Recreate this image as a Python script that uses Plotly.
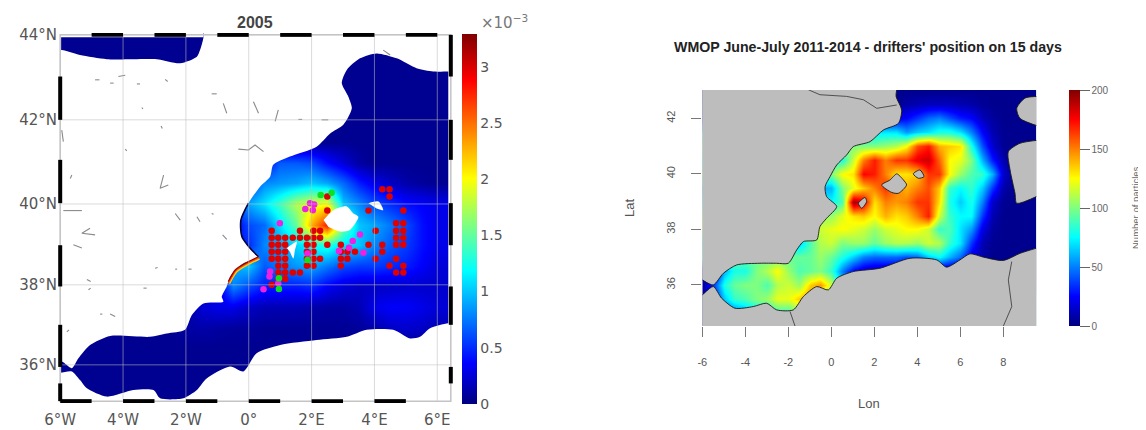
import plotly.graph_objects as go

# page body has an 8 px margin, so figure coordinates are reference pixels minus OFF
OFF = 8
W, H = 1146 - OFF, 430 - OFF
# ---------- left panel data ----------
left_lon = [-6 + 0.5 * i for i in range(26)]
left_lat = [44 - 0.5 * i for i in range(20)]
_d = 0.05
_w12 = [_d] * 10  # -6 .. -1.5
left_z = [
    [_d] * 26, [_d] * 26, [_d] * 26, [_d] * 26, [_d] * 26, [_d] * 26,
    _w12 + [_d, _d, .05, .35, .65, .65, .6, .4, .25, .1, .05, .05, .05, .05, .05, .05],        # 41
    _w12 + [_d, .2, .5, .8, .85, .9, 1.0, .9, .7, .45, .3, .2, .12, .08, .06, .05],            # 40.5
    _w12 + [_d, .5, .9, 1.1, 1.4, 1.75, 1.9, 2.0, 1.0, .8, .6, .5, .4, .35, .3, .3],           # 40
    _w12 + [_d, .3, .6, .7, 1.1, 1.5, 2.3, 2.8, 1.6, 1.0, .9, .75, .6, .4, .3, .3],            # 39.5
    _w12 + [_d, .4, .5, .8, .9, 1.05, 1.2, 1.3, 1.1, 1.0, .8, .65, .55, .4, .3, .3],           # 39
    _w12 + [.05, .9, 1.0, .65, .75, .85, .9, .75, .6, .55, .55, .5, .45, .35, .25, .25],       # 38.5
    _w12 + [.2, .8, .6, .45, .45, .45, .5, .35, .25, .2, .2, .2, .22, .22, .22, .22],          # 38
    [_d] * 8 + [.1, .25] + [.3, .3, .2, .15, .15, .15, .12, .1, .1, .15, .3, .35, .35, .3, .25, .25],  # 37.5
    [_d] * 8 + [.1, .12] + [.1, .08, .08, .06, .06, .06, .06, .06, .06, .08, .12, .2, .22, .2, .15, .15],  # 37
    [_d] * 26, [_d] * 26, [_d] * 26, [_d] * 26, [_d] * 26,
]
left_north_coast = [(6.35,43.21),(5.87,43.21),(5.34,43.29),(4.71,43.53),(4.07,43.65),(3.54,43.53),(3.12,43.25),(2.96,42.93),(3.17,42.6),(3.28,42.32),(3.01,41.92),(2.59,41.71),(2.16,41.39),(1.31,41.15),(.78,40.95),(.68,40.66),(.36,40.42),(-.01,40.02),(-.25,39.61),(-.22,39.21),(.04,38.93),(.31,38.72),(-.17,38.56),(-.59,38.24),(-.7,38.0),(-.86,37.75),(-.81,37.63),(-1.44,37.59),(-1.81,37.31),(-2.03,36.95),(-2.61,36.86),(-3.14,36.78),(-4.41,36.8),(-5.05,36.58),(-5.42,36.26),(-5.63,36.02),(-5.95,36.18)]
left_top_edge = [(-5.95,43.73),(-5.37,43.61),(-4.52,43.51),(-3.67,43.51),(-2.93,43.51),(-2.18,43.41),(-1.65,43.57),(-1.55,43.73),(-1.44,44.04)]
left_south_coast = [(-6,35.91),(-5.63,35.94),(-5.37,35.73),(-5.15,35.53),(-4.52,35.33),(-3.67,35.49),(-3.03,35.49),(-2.82,35.29),(-2.08,35.29),(-1.65,35.49),(-1.34,35.77),(-.59,36.06),(-.17,35.94),(.25,36.38),(1.0,36.58),(2.16,36.7),(3.12,36.78),(3.75,36.95),(4.6,36.95),(5.13,36.74),(5.45,36.78),(5.77,36.99),(6.35,37.11)]
left_islands = [
    [(2.38,39.61),(2.69,39.85),(3.12,39.94),(3.33,39.77),(3.49,39.69),(3.22,39.37),(2.91,39.33),(2.53,39.45)],
    [(3.81,40.02),(4.13,40.06),(4.28,39.85),(4.07,39.89)],
    [(1.21,38.93),(1.53,39.09),(1.47,38.88),(1.42,38.68),(1.31,38.84)],
]
left_fragments = [
    [(-4.89,43.01),(-4.75,43.01)],[(-4.41,42.93),(-4.3,42.93)],[(-4.15,43.09),(-3.93,43.12)],[(-3.56,42.91),(-3.46,42.91)],
    [(-2.66,43.02),(-2.58,42.97)],[(-3.4,42.34),(-3.37,42.3)],[(-1.18,42.67),(-1.02,42.67)],[(-.81,42.44),(-.7,42.2)],
    [(.15,42.48),(.31,42.2)],[(.94,42.28),(.84,42.0)],[(1.58,42.05),(1.7,42.05)],[(2.32,42.04),(2.53,42.04)],
    [(-2.79,41.89),(-2.75,41.83)],[(-5.95,41.79),(-5.9,41.51)],[(-3.93,41.33),(-3.88,41.29)],
    [(-.33,41.33),(-.01,41.31),(.2,41.43),(.47,41.27)],[(-2.71,40.7),(-2.82,40.38),(-2.56,40.46)],[(-5.68,40.62),(-5.63,40.7)],
    [(-5.9,39.84),(-5.31,39.84)],[(-2.34,39.77),(-2.18,39.61)],[(-1.65,39.69),(-1.55,39.57)],[(-1.18,39.77),(-1.12,39.75)],
    [(-.83,39.25),(-.7,39.14)],[(-5.05,39.41),(-5.31,39.29),(-4.89,39.25)],[(-5.58,39.01),(-5.31,38.93)],[(-2.98,38.44),(-2.9,38.46)],
    [(-2.34,38.42),(-2.28,38.42)],[(-1.92,38.42),(-1.82,38.42)],[(-5.15,38.17),(-5.03,38.12)],[(-5.1,37.92),(-5.03,37.96)],
    [(-3.35,37.96),(-3.25,37.96)],[(-4.73,37.33),(-4.66,37.33)],[(-4.41,37.33),(-4.25,37.27)],[(-5.79,36.9),(-5.72,36.95)],[(4.28,43.73),(4.5,43.61)],
]
valencia_shadow = [(-.01,40.02),(-.25,39.61),(-.22,39.21),(.04,38.93),(.31,38.72)]
filament = [(-.65,38.12),(-.43,38.4),(-.12,38.56),(.31,38.72)]
red_rows = {
    40.36: [4.25,4.48], 40.18: [2.5,4.48], 39.84: [2.5,3.81,4.92], 39.53: [4.69,4.92],
    39.35: [.73,1.63,2.06,2.27,4.04,4.69,4.92],
    39.18: [.73,.94,1.16,1.4,1.63,1.85,2.06,2.27,4.69,4.92],
    39.01: [.73,.94,1.16,1.85,2.06,2.5,2.93,3.81,4.25,4.69,4.92],
    38.84: [.73,.94,1.16,1.85,2.06,2.93,3.14,3.38,4.25],
    38.67: [.73,.94,1.16,1.85,2.06,2.27,2.93,3.14,4.04,4.69],
    38.5:  [.94,1.16,1.85,2.06,2.93,4.48,4.92],
    38.34: [.94,1.16,1.4,1.63,4.69,4.92],
    38.18: [.94,1.16], 38.04: [.73],
}
magenta_lon = [1.95,2.08,1.8,2.04,.99,3.54,3.31,2.87,3.19,3.65,.68,.66,.47,.94,1.87]
magenta_lat = [40.02,39.99,39.88,39.85,39.53,39.26,39.1,38.86,38.94,38.82,38.36,38.24,37.93,38.08,38.8]
green_lon = [1.87,.96,.96,2.29,2.64]
green_lat = [38.64,38.2,37.94,40.22,40.27]
top_black = [(-5,-4),(-3,-2),(-1,0),(1,2),(3,4),(5,6)]
bottom_black = [(-6,-5),(-4,-3),(-2,-1),(0,1),(2,3),(4,5)]
left_black = [(42.04,43.09),(40.02,41.07),(38.0,39.0),(36.05,37.07),(35.22,35.65)]
right_black = [(43.09,44.1),(41.07,42.04),(39.0,40.02),(37.07,38.0),(35.65,36.05)]
left_lon_ticks = [-6,-4,-2,0,2,4,6]
left_lon_text = ["6°W","4°W","2°W","0°","2°E","4°E","6°E"]
left_lat_ticks = [36.1,38.04,40,42.04,44.1]
left_lat_text = ["36°N","38°N","40°N","42°N","44°N"]
left_cb_ticks = [0,.5,1,1.5,2,2.5,3]
left_cb_text = ["0","0.5","1","1.5","2","2.5","3"]

# ---------- right panel data ----------
right_lon = [-6 + 0.5 * i for i in range(32)]
right_lat = [43 - 0.5 * i for i in range(18)]
right_z = [
    [3]*32,
    [3]*19 + [8,10,12,12,12,10,8,5,3,3,3,3,3],
    [20]*18 + [20,25,35,45,50,40,30,25,12,6,3,3,3,3],
    [70]*17 + [70,70,55,65,70,80,80,70,50,25,10,4,3,3,3],
    [100]*14 + [100,100,100,105,110,125,160,170,140,135,130,80,40,15,4,3,3,3],
    [80]*13 + [80,115,150,170,150,165,165,180,185,155,125,120,100,60,30,8,3,3,3],
    [100]*12 + [100,125,130,175,170,150,130,130,135,165,165,125,105,90,85,60,15,3,3,3],
    [60]*12 + [60,100,120,135,150,165,150,140,150,160,135,85,75,85,65,35,8,3,3,3],
    [75]*12 + [75,90,195,180,130,150,145,150,165,165,130,80,65,80,50,15,4,3,3,3],
    [105]*11 + [105,105,120,130,135,125,140,130,135,150,170,115,85,75,75,35,10,3,3,3,3],
    [115]*11 + [115,120,125,120,115,105,115,120,125,125,115,85,90,70,55,20,6,3,3,3,3],
    [65]*9 + [65,90,110,115,100,105,105,95,105,110,110,105,115,110,85,70,35,10,4,3,3,3,3],
    [95]*8 + [95,95,95,105,95,80,65,50,45,45,45,40,45,65,75,60,45,20,8,3,3,3,3,3],
    [8,12,60,80,80,100,110,125,105,90,95,100,85,50,25,15,10,10,10,10,10,10,10,5,5,5,5,5,5,5,5,5],
    [5,35,80,95,100,100,90,110,115,105,135,145,115,60] + [30]*18,
    [5,25,65,85,90,100,105,120,120,135,150,120] + [60]*20,
    [5,5,35,45,55,70,75,85,85,100] + [60]*22,
    [5,5,35,45,55,70,75,85,85,100] + [60]*22,
]
right_north_coast = [(3.04,43.03),(3.01,42.79),(3.27,42.3),(3.12,41.82),(2.42,41.58),(1.8,41.16),(1.02,40.98),(.71,40.68),(.25,40.32),(-.06,39.9),(-.29,39.54),(-.22,39.18),(.25,38.82),(-.22,38.4),(-.53,38.1),(-.68,37.62),(-1.3,37.56),(-1.61,37.26),(-2.0,36.78),(-2.54,36.78),(-3.32,36.78),(-4.4,36.72),(-5.02,36.42),(-5.49,36.0),(-6,36.18)]
right_south_coast = [(-6,35.64),(-5.49,35.94),(-5.1,35.52),(-4.48,35.16),(-3.63,35.22),(-3.01,35.34),(-2.54,35.1),(-1.77,35.1),(-1.3,35.58),(-.68,35.94),(-.14,35.82),(.25,36.24),(1.02,36.48),(2.26,36.6),(3.66,36.96),(4.9,36.9),(5.36,36.64),(5.98,36.9),(6.45,37.12),(7.07,37.0),(8.0,36.88),(8.78,37.14),(9.53,37.32)]
right_islands = [
    [(9.7,42.79),(9.01,42.73),(8.62,42.36),(8.77,42.0),(9.7,41.7)],
    [(9.7,41.22),(8.77,41.1),(8.23,40.8),(8.31,40.14),(8.54,39.3),(8.62,38.94),(9.7,39.24)],
    [(2.34,39.6),(2.73,39.78),(3.04,40.0),(3.35,39.78),(3.5,39.6),(3.12,39.3),(2.81,39.33),(2.34,39.6)],
    [(3.81,40),(4.12,40.14),(4.31,39.9),(4.05,39.84),(3.81,40)],
    [(1.26,38.94),(1.57,39.15),(1.64,39.0),(1.41,38.76),(1.26,38.94)],
]
right_borders = [
    [(-1.07,43.03),(-.53,42.85),(.71,42.79),(1.49,42.67),(2.11,42.36),(3.04,42.48)],
    [(-1.92,35.04),(-1.69,34.52)],
    [(8.39,36.84),(8.23,36.18),(8.39,35.22),(8.0,34.52)],
]
right_lon_ticks = [-6,-4,-2,0,2,4,6,8]
right_lon_text = ["-6","-4","-2","0","2","4","6","8"]
right_lat_ticks = [36,38,40,42]
right_cb_ticks = [0,50,100,150,200]

# ---------- layout helpers ----------
JET = [[0,"#00007f"],[.11,"#0000ff"],[.36,"#00ffff"],[.61,"#ffff00"],[.875,"#ff0000"],[1,"#7f0000"]]
JET2 = [[0,"#00007f"],[.125,"#0000ff"],[.375,"#00ffff"],[.625,"#ffff00"],[.875,"#ff0000"],[1,"#7f0000"]]
def xs(p): return [a for a, _ in p]
def ys(p): return [b for _, b in p]
def poly(points, color, xa, ya, smooth=False):
    ln = dict(width=0, color=color)
    if smooth:
        ln.update(shape="spline", smoothing=0.7)
    return go.Scatter(x=xs(points), y=ys(points), mode="lines", fill="toself", fillcolor=color,
                      line=ln, hoverinfo="skip", showlegend=False, xaxis=xa, yaxis=ya)
def line(points, color, width, xa, ya, smooth=False):
    ln = dict(color=color, width=width)
    if smooth:
        ln.update(shape="spline", smoothing=0.7)
    return go.Scatter(x=xs(points), y=ys(points), mode="lines", line=ln,
                      hoverinfo="skip", showlegend=False, xaxis=xa, yaxis=ya)
def px(x): return (x - OFF) / W
def py(y): return 1 - (y - OFF) / H
def dx(a, b): return [px(a), px(b)]
def dy(top, bottom): return [py(bottom), py(top)]

fig = go.Figure()
X0, X1, Y0, Y1 = -6.07, 6.5, 35.175, 44.145
FX0, FX1, FY0, FY1 = -6.0, 6.43, 35.22, 44.10
M = 0.3  # masks run past the axes so no heatmap fringe shows

fig.add_trace(go.Heatmap(x=left_lon, y=left_lat[::-1], z=left_z[::-1], zsmooth="best", zmin=0, zmax=3.29,
    colorscale=JET, xaxis="x", yaxis="y", hoverinfo="skip",
    colorbar=dict(x=px(462), xanchor="left", y=py(404), yanchor="bottom", len=370/H, lenmode="fraction",
                  thickness=15, thicknessmode="pixels", xpad=0, ypad=0, outlinewidth=0,
                  tickvals=left_cb_ticks, ticktext=left_cb_text, ticks="",
                  tickfont=dict(family="DejaVu Sans", size=14, color="#555"))))
white = "#ffffff"
land_a = [(X1+M,Y1+M),(X1+M,43.21)] + left_north_coast + [(X0-M,36.18),(X0-M,43.73)] + left_top_edge + [(-1.44,Y1+M)]
land_c = [(X1+M,37.11)] + left_south_coast[::-1] + [(X0-M,35.91),(X0-M,Y0-M),(X1+M,Y0-M)]
top_strip = [(X0-M,Y1+M),(-1.44,Y1+M),(-1.44,44.04),(X0-M,44.04)]
left_strip = [(X0-M,Y0-M),(-5.97,Y0-M),(-5.97,Y1+M),(X0-M,Y1+M)]
right_strip = [(6.35,Y0-M),(X1+M,Y0-M),(X1+M,Y1+M),(6.35,Y1+M)]
for p in [land_a, land_c] + left_islands:
    fig.add_trace(poly(p, white, "x", "y", smooth=True))
for p in [top_strip, left_strip, right_strip]:
    fig.add_trace(poly(p, white, "x", "y"))
for frag in left_fragments:
    fig.add_trace(line(frag, "#8a8a8a", 1.1, "x", "y"))
fig.add_trace(line(valencia_shadow, "#00003a", 1.6, "x", "y", smooth=True))
fig.add_trace(line([(a + .03, b - .05) for a, b in filament], "#ffd000", 2, "x", "y", smooth=True))
fig.add_trace(line([(a + .015, b - .025) for a, b in filament], "#ff5000", 1.5, "x", "y", smooth=True))
fig.add_trace(line(filament, "#a00000", 1.3, "x", "y", smooth=True))

red_lon = [lo for la, row in red_rows.items() for lo in row]
red_lat = [la for la, row in red_rows.items() for lo in row]
for lon_, lat_, c in [(red_lon, red_lat, "#e00000"), (magenta_lon, magenta_lat, "#f020e0"), (green_lon, green_lat, "#10e020")]:
    fig.add_trace(go.Scatter(x=lon_, y=lat_, mode="markers", marker=dict(size=6.5, color=c, line=dict(width=0)),
                             hoverinfo="skip", showlegend=False, xaxis="x", yaxis="y"))

# right panel
fig.add_trace(go.Heatmap(x=right_lon, y=right_lat[::-1], z=right_z[::-1], zsmooth="best", zmin=0, zmax=200,
    colorscale=JET2, xaxis="x2", yaxis="y2", hoverinfo="skip",
    colorbar=dict(x=px(1069), xanchor="left", y=py(326), yanchor="bottom", len=236/H, lenmode="fraction",
                  thickness=10.5, thicknessmode="pixels", xpad=0, ypad=0, outlinewidth=0,
                  tickvals=right_cb_ticks, ticks="outside", ticklen=10, tickcolor="#666", tickprefix="\u00a0\u00a0",
                  tickfont=dict(family="Liberation Sans", size=10, color="#666"))))
gray = "#bdbdbd"
RX0, RX1, RY0, RY1 = -6, 9.53, 34.52, 43.02
r_land_a = [(RX0-M,RY1+M),(3.04,RY1+M)] + right_north_coast + [(RX0-M,36.18)]
r_land_c = [(RX0-M,35.64)] + right_south_coast + [(RX1+M,37.32),(RX1+M,RY0-M),(RX0-M,RY0-M)]
for p in [r_land_a, r_land_c] + right_islands:
    fig.add_trace(poly(p, gray, "x2", "y2", smooth=True))
for p in [right_north_coast, right_south_coast] + right_islands:
    fig.add_trace(line(p, "#1a1a1a", 0.9, "x2", "y2", smooth=True))
for p in right_borders:
    fig.add_trace(line(p, "#333333", 0.8, "x2", "y2"))

# frame + grid for the left panel, on the left axes
shapes = []
grid = "rgba(190,190,190,0.55)"
for v in left_lon_ticks:
    shapes.append(dict(type="line", xref="x", yref="y", x0=v, x1=v, y0=FY0, y1=FY1, line=dict(color=grid, width=1)))
for v in left_lat_ticks:
    shapes.append(dict(type="line", xref="x", yref="y", x0=FX0, x1=FX1, y0=v, y1=v, line=dict(color=grid, width=1)))
shapes.append(dict(type="rect", xref="x", yref="y", x0=FX0, x1=FX1, y0=FY0, y1=FY1, line=dict(color="#c4c4c4", width=1.5)))
black = dict(color="#000000", width=4)
for a, b in top_black:
    shapes.append(dict(type="line", xref="x", yref="y", x0=a, x1=b, y0=FY1, y1=FY1, line=black))
for a, b in bottom_black:
    shapes.append(dict(type="line", xref="x", yref="y", x0=a, x1=b, y0=FY0, y1=FY0, line=black))
for a, b in left_black:
    shapes.append(dict(type="line", xref="x", yref="y", x0=FX0, x1=FX0, y0=a, y1=b, line=black))
for a, b in right_black:
    shapes.append(dict(type="line", xref="x", yref="y", x0=FX1, x1=FX1, y0=a, y1=b, line=black))

def ann(text, x, y, size, color, bold=False, angle=0, family="Liberation Sans", xanchor="center"):
    return dict(text=f"<b>{text}</b>" if bold else text, x=px(x), y=py(y), xref="paper", yref="paper",
                showarrow=False, textangle=angle, xanchor=xanchor, yanchor="middle",
                font=dict(size=size, color=color, family=family))
annotations = [
    ann("2005", 255, 22, 16, "#444", bold=True),
    ann("×10<sup>−3</sup>", 479, 22, 15, "#777", family="DejaVu Sans", xanchor="left"),
    ann("WMOP June-July 2011-2014 - drifters' position on 15 days", 868, 47, 14.2, "#222", bold=True),
    ann("Lon", 869, 403, 13, "#555"),
    ann("Lat", 629, 208, 13, "#555", angle=-90),
    ann("Number of particles", 1135, 208, 9.5, "#666", angle=-90),
]

fig.update_layout(
    width=W, height=H, margin=dict(l=0, r=0, t=0, b=0, autoexpand=False),
    paper_bgcolor="white", plot_bgcolor="white", showlegend=False, shapes=shapes, annotations=annotations,
    xaxis=dict(domain=dx(58, 453), range=[X0, X1], anchor="y", showgrid=False, zeroline=False, showline=False,
               tickvals=left_lon_ticks, ticktext=left_lon_text, ticks="", ticklabelstandoff=6,
               tickfont=dict(family="DejaVu Sans", size=15, color="#555")),
    yaxis=dict(domain=dy(33, 403), range=[Y0, Y1], anchor="x", showgrid=False, zeroline=False, showline=False,
               tickvals=left_lat_ticks, ticktext=left_lat_text, ticks="",
               tickfont=dict(family="DejaVu Sans", size=15, color="#555")),
    xaxis2=dict(domain=dx(702.3, 1036.3), range=[RX0, RX1], anchor="y2", showgrid=False, zeroline=False, showline=False,
                tickvals=right_lon_ticks, ticktext=right_lon_text, ticks="outside", ticklen=10, tickcolor="#777", ticklabelstandoff=16,
                tickfont=dict(family="Liberation Sans", size=11, color="#555")),
    yaxis2=dict(domain=dy(90, 326), range=[RY0, RY1], anchor="x2", showgrid=False, zeroline=False, showline=False,
                tickvals=right_lat_ticks, ticks="outside", ticklen=10, tickcolor="#777", tickangle=-90, ticklabelstandoff=12,
                tickfont=dict(family="Liberation Sans", size=11, color="#555")),
)
fig.write_html("out.html")
